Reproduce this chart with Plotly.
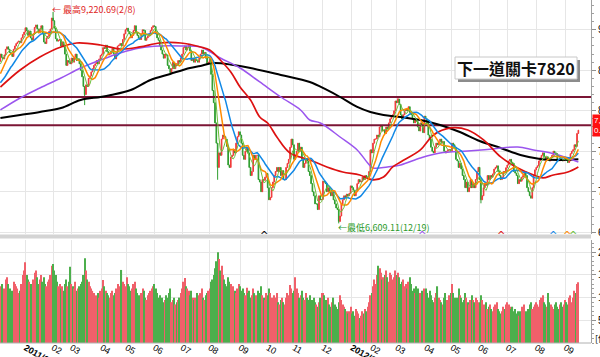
import pandas as pd
import plotly.graph_objects as go
from plotly.subplots import make_subplots

# ---------------- data ----------------
month_names = ["2010/12", "2011/01", "2011/02", "2011/03", "2011/04", "2011/05", "2011/06",
               "2011/07", "2011/08", "2011/09", "2011/10", "2011/11", "2011/12",
               "2012/01", "2012/02", "2012/03", "2012/04", "2012/05", "2012/06",
               "2012/07", "2012/08", "2012/09"]
month_tick_text = ["", "<b>2011/01</b>", "02", "03", "04", "05", "06", "07", "08", "09", "10",
                   "11", "12", "<b>2012/01</b>", "02", "03", "04", "05", "06", "07", "08", "09"]

# closes of the 20 sessions before the visible window (feed the short moving averages)
close_pre = [8400, 8330, 8250, 8200, 8250, 8180, 8150, 8230, 8250, 8300, 8210, 8280, 8330,
             8340, 8370, 8372, 8435, 8540, 8600, 8610]

close_2010_12 = [8700, 8660, 8640, 8690, 8760, 8790, 8760, 8720, 8700, 8670, 8760, 8800, 8830,
                 8850, 8860, 8840, 8900, 8940, 8972]
close_2011_01 = [9025, 8990, 8930, 8985, 8900, 8870, 8950, 9030, 9060, 9010, 8960, 9010, 9050,
                 8960, 8850, 8830, 8900, 8920, 8980, 9010, 9145]
close_2011_02 = [9112, 9020, 8890, 8860, 8870, 8880, 8800, 8850, 8790, 8700, 8560, 8620, 8600, 8580]
close_2011_03 = [8650, 8600, 8660, 8700, 8620, 8640, 8580, 8500, 8420, 8300, 8200, 8320, 8300,
                 8400, 8430, 8480, 8520, 8560, 8580, 8620, 8580, 8640, 8683]
close_2011_04 = [8700, 8780, 8770, 8810, 8730, 8690, 8700, 8730, 8770, 8700, 8640, 8720, 8800,
                 8810, 8830, 8800, 8880, 8950, 9000]
close_2011_05 = [9020, 8980, 8950, 8900, 8930, 8990, 9050, 8960, 8930, 8900, 8880, 8950, 9000,
                 8990, 8870, 8900, 8920, 8950, 8990, 9030, 9050]
close_2011_06 = [9040, 8950, 8900, 8870, 8800, 8750, 8700, 8650, 8700, 8690, 8560, 8520, 8470,
                 8520, 8600, 8520, 8580, 8560, 8620, 8600, 8652]
close_2011_07 = [8700, 8780, 8800, 8750, 8780, 8820, 8740, 8620, 8650, 8600, 8640, 8620, 8600,
                 8650, 8700, 8750, 8700, 8720, 8650, 8580, 8600]
close_2011_08 = [8640, 8450, 8250, 8100, 7850, 7600, 7300, 7480, 7450, 7650, 7700, 7680, 7650,
                 7560, 7330, 7300, 7430, 7450, 7520, 7480, 7600, 7680, 7740]
close_2011_09 = [7700, 7600, 7450, 7400, 7500, 7550, 7480, 7300, 7200, 7250, 7450, 7400, 7450,
                 7450, 7150, 7120, 7000, 7150, 7140, 7180, 7225]
close_2011_10 = [7050, 6900, 6930, 7050, 7120, 7200, 7250, 7300, 7250, 7300, 7200, 7260, 7150,
                 7150, 7300, 7350, 7400, 7550, 7650, 7580]
close_2011_11 = [7400, 7450, 7500, 7600, 7500, 7550, 7400, 7300, 7350, 7400, 7380, 7250, 7200,
                 7100, 7000, 6950, 6850, 6850, 6780, 6950, 6900, 6904]
close_2011_12 = [7130, 7120, 7100, 7000, 7050, 7000, 6950, 7000, 6900, 6850, 6800, 6780, 6633,
                 6700, 6850, 6900, 6950, 6930, 6970, 6950, 6980, 7072]
close_2012_01 = [7050, 7020, 6950, 7000, 7100, 7150, 7120, 7130, 7180, 7150, 7200, 7180, 7180,
                 7250, 7517]
close_2012_02 = [7480, 7600, 7650, 7650, 7700, 7680, 7800, 7820, 7750, 7760, 7720, 7800, 7780,
                 7850, 7900, 7930, 7950, 8000, 8121]
close_2012_03 = [8100, 8144, 8080, 7950, 7900, 7950, 8000, 8020, 8000, 8050, 7980, 7950, 7900,
                 7850, 7900, 7870, 7800, 7750, 7850, 7820, 7730, 7933]
close_2012_04 = [7900, 7850, 7700, 7650, 7550, 7500, 7480, 7550, 7600, 7580, 7620, 7650, 7600,
                 7620, 7500, 7480, 7500, 7520, 7520, 7501]
close_2012_05 = [7600, 7580, 7550, 7400, 7380, 7300, 7350, 7280, 7200, 7150, 7050, 7120, 7000,
                 7050, 7150, 7050, 7100, 7050, 7150, 7250, 7301]
close_2012_06 = [7150, 6900, 6950, 7050, 7100, 7080, 7200, 7150, 7200, 7180, 7220, 7280, 7300,
                 7320, 7250, 7200, 7150, 7180, 7250, 7230, 7296]
close_2012_07 = [7330, 7380, 7400, 7360, 7350, 7250, 7230, 7200, 7100, 7150, 7130, 7180, 7200,
                 7250, 7200, 7050, 7000, 6950, 6920, 7050, 7200, 7270]
close_2012_08 = [7300, 7320, 7380, 7420, 7450, 7480, 7430, 7400, 7430, 7400, 7380, 7420, 7450,
                 7500, 7480, 7470, 7400, 7380, 7420, 7400, 7380, 7400]
close_2012_09 = [7420, 7390, 7360, 7380, 7470, 7500, 7520, 7580, 7560, 7720, 7760]

# daily turnover (NT$ 100 million)
vol_2010_12 = [1250, 1300, 1150, 1200, 1400, 1450, 1300, 1200, 1100, 1150, 1350, 1300, 1250, 1200,
               1100, 1150, 1300, 1500, 1600]
vol_2011_01 = [1780, 1500, 1400, 1350, 1300, 1250, 1400, 1550, 1600, 1450, 1300, 1400, 1500, 1350,
               1450, 1300, 1250, 1350, 1400, 1500, 1700]
vol_2011_02 = [1740, 1600, 1500, 1350, 1250, 1300, 1200, 1250, 1150, 1300, 1400, 1250, 1350, 1680]
vol_2011_03 = [1300, 1250, 1200, 1350, 1150, 1200, 1250, 1300, 1350, 1500, 1870, 1600, 1400, 1350,
               1250, 1200, 1150, 1100, 1000, 1050, 1100, 1000, 1150]
vol_2011_04 = [1200, 1390, 1250, 1150, 1100, 1050, 1000, 1100, 1150, 1050, 1100, 1200, 1300, 1250,
               1200, 1610, 1350, 1300, 1250]
vol_2011_05 = [1450, 1300, 1250, 1150, 1200, 1300, 1350, 1200, 1100, 1050, 1000, 1100, 1200, 1150,
               1000, 950, 1050, 1100, 1150, 1200, 1250]
vol_2011_06 = [1300, 1200, 1100, 1000, 1050, 950, 1000, 900, 950, 1050, 1000, 1100, 1200, 900, 950,
               1000, 850, 900, 950, 1000, 1100]
vol_2011_07 = [1200, 1350, 1430, 1250, 1200, 1150, 1050, 1150, 1000, 950, 1000, 1100, 950, 1050,
               1100, 1200, 1000, 950, 1050, 1100, 1150]
vol_2011_08 = [1200, 1350, 1400, 1500, 1650, 1800, 2000, 1850, 1600, 1700, 1500, 1400, 1300, 1250,
               1450, 1350, 1300, 1200, 1250, 1150, 1100, 1200, 1300]
vol_2011_09 = [1250, 1150, 1200, 1100, 1050, 1220, 1100, 1150, 1000, 1050, 1200, 1100, 1050, 1000,
               1150, 1100, 1250, 1050, 1000, 950, 1100]
vol_2011_10 = [1050, 1200, 1100, 1000, 950, 1050, 1000, 1100, 900, 850, 950, 1000, 900, 850, 1000,
               1100, 1050, 1280, 1200, 1100]
vol_2011_11 = [1150, 1450, 1200, 1100, 1000, 1050, 1150, 1000, 950, 1100, 1000, 950, 1050, 900, 950,
               1000, 900, 850, 800, 900, 1000, 1100]
vol_2011_12 = [1100, 1050, 950, 900, 1000, 850, 800, 900, 1000, 850, 800, 750, 900, 1050, 950, 850,
               800, 750, 700, 650, 700, 800]
vol_2012_01 = [650, 700, 600, 750, 700, 650, 550, 600, 700, 650, 750, 700, 800, 900, 1050]
vol_2012_02 = [1100, 1250, 1400, 1300, 1500, 1700, 1650, 1550, 1400, 1450, 1500, 1600, 1450, 1350,
               1550, 1500, 1400, 1450, 1600]
vol_2012_03 = [1500, 1550, 1450, 1300, 1350, 1400, 1250, 1300, 1200, 1350, 1450, 1300, 1150, 1200,
               1100, 1250, 1200, 1050, 1100, 1150, 1050, 1200]
vol_2012_04 = [1200, 1100, 1000, 1150, 1050, 950, 900, 1000, 1100, 1250, 1000, 950, 900, 850, 1000,
               1100, 950, 900, 1050, 1100]
vol_2012_05 = [1300, 1100, 1000, 950, 1000, 1200, 1050, 1000, 900, 950, 1100, 1000, 900, 850, 950,
               1050, 950, 900, 1000, 950, 900]
vol_2012_06 = [900, 1050, 950, 850, 800, 900, 750, 800, 850, 750, 700, 800, 850, 900, 750, 700, 650,
               700, 800, 750, 850]
vol_2012_07 = [900, 850, 800, 750, 800, 700, 750, 650, 700, 600, 700, 800, 750, 850, 700, 650, 750,
               850, 900, 750, 800, 850]
vol_2012_08 = [900, 850, 800, 950, 1000, 1050, 900, 850, 800, 1100, 900, 850, 800, 750, 850, 900, 800,
               750, 850, 900, 800, 850]
vol_2012_09 = [950, 900, 850, 1000, 1050, 900, 1000, 1150, 1100, 1300, 1340]

# intraday extremes (month, session within month, value)
intraday_highs = [("2011/02", 0, 9220.69), ("2012/03", 1, 8170.72)]
intraday_lows = [("2011/03", 10, 8070), ("2011/08", 6, 7148), ("2011/12", 12, 6609.11),
                 ("2012/06", 1, 6857)]

# long moving averages (session index, value)
ma60_day = [0, 15, 30, 46, 58, 76, 91, 106, 121, 137, 152, 159, 167, 175, 182, 190, 197, 203, 210,
            220, 235, 248, 260, 273, 283, 291, 298, 304, 319, 329, 342, 355, 367, 380, 393, 405,
            412, 420, 431, 439]
ma60_val = [8293, 8504, 8664, 8788, 8837, 8812, 8763, 8788, 8837, 8837, 8788, 8751, 8627, 8479,
            8294, 8133, 7923, 7849, 7676, 7479, 7393, 7306, 7244, 7207, 7146, 7183, 7306, 7368,
            7516, 7701, 7788, 7763, 7640, 7430, 7294, 7207, 7170, 7207, 7244, 7306]
ma120_day = [0, 15, 30, 46, 61, 76, 91, 106, 121, 137, 152, 167, 182, 197, 213, 228, 235, 243, 258,
             271, 279, 283, 294, 304, 319, 334, 355, 374, 393, 405, 418, 431, 439]
ma120_val = [8010, 8158, 8281, 8405, 8528, 8627, 8714, 8775, 8800, 8800, 8788, 8652, 8528, 8356,
             8170, 8010, 7886, 7849, 7676, 7516, 7355, 7294, 7306, 7331, 7417, 7479, 7504, 7528,
             7553, 7516, 7479, 7417, 7368]
ma240_day = [0, 15, 30, 46, 61, 76, 84, 99, 114, 129, 144, 152, 162, 177, 190, 213, 235, 248, 258,
             271, 281, 291, 304, 319, 334, 349, 364, 380, 395, 410, 425, 439]
ma240_val = [7911, 7948, 7985, 8034, 8133, 8170, 8195, 8257, 8380, 8455, 8528, 8553, 8590, 8565,
             8528, 8442, 8355, 8257, 8170, 8047, 7985, 7948, 7923, 7886, 7825, 7738, 7627, 7541,
             7454, 7405, 7393, 7400]

resistance_levels = [8170, 7820]
target_level = 7820
ma_periods = [240, 120, 60, 20, 10, 5]
vol_ticks = [500, 1000, 1500, 2000]

# ---------------- assemble ----------------
close_months = [close_2010_12, close_2011_01, close_2011_02, close_2011_03, close_2011_04,
                close_2011_05, close_2011_06, close_2011_07, close_2011_08, close_2011_09,
                close_2011_10, close_2011_11, close_2011_12, close_2012_01, close_2012_02,
                close_2012_03, close_2012_04, close_2012_05, close_2012_06, close_2012_07,
                close_2012_08, close_2012_09]
vol_months = [vol_2010_12, vol_2011_01, vol_2011_02, vol_2011_03, vol_2011_04, vol_2011_05,
              vol_2011_06, vol_2011_07, vol_2011_08, vol_2011_09, vol_2011_10, vol_2011_11,
              vol_2011_12, vol_2012_01, vol_2012_02, vol_2012_03, vol_2012_04, vol_2012_05,
              vol_2012_06, vol_2012_07, vol_2012_08, vol_2012_09]
for cm, vm, nm in zip(close_months, vol_months, month_names):
    if len(cm) != len(vm):
        raise ValueError(f"length mismatch in {nm}: {len(cm)} vs {len(vm)}")

closes = [c for m in close_months for c in m]
volumes = [v for m in vol_months for v in m]
n = len(closes)
day = list(range(n))
month_start = []
pos = 0
for m in close_months:
    month_start.append(pos)
    pos += len(m)

opens = [close_pre[-1]] + closes[:-1]
highs = [max(o, c) for o, c in zip(opens, closes)]
lows = [min(o, c) for o, c in zip(opens, closes)]
for mon, d, v in intraday_highs:
    highs[month_start[month_names.index(mon)] + d] = v
for mon, d, v in intraday_lows:
    lows[month_start[month_names.index(mon)] + d] = v

full = pd.Series(close_pre + closes, dtype=float)
k = len(close_pre)
ma5 = full.rolling(5).mean().iloc[k:].tolist()
ma10 = full.rolling(10).mean().iloc[k:].tolist()
ma20 = full.rolling(20).mean().iloc[k:].tolist()

UP, DOWN = "#f03a3a", "#2f9e2f"
VUP, VDOWN = "#f0606a", "#4caf4c"
vol_colors = [VUP if c >= o else VDOWN for o, c in zip(opens, closes)]

# ---------------- figure ----------------
W, H = 600, 357
ML, MR, MT, MB = 0, 9, 0, 14
PW, PH = W - ML - MR, H - MT - MB


def px_x(v):
    return v / PW


def px_y(v):
    return 1 - v / PH


fig = make_subplots(rows=2, cols=1, shared_xaxes=True)

fig.add_trace(go.Candlestick(
    x=day, open=opens, high=highs, low=lows, close=closes,
    increasing=dict(line=dict(color=UP, width=1), fillcolor=UP),
    decreasing=dict(line=dict(color=DOWN, width=1), fillcolor=DOWN),
    whiskerwidth=0, hoverinfo="skip", showlegend=False), row=1, col=1)

for lvl in resistance_levels:
    fig.add_trace(go.Scatter(x=[-1, n + 20], y=[lvl, lvl], mode="lines",
                             line=dict(color="#7b1535", width=2), hoverinfo="skip",
                             showlegend=False), row=1, col=1)

fig.add_trace(go.Scatter(x=ma240_day, y=ma240_val, mode="lines", line_shape="spline",
                         line=dict(color="#000000", width=2), showlegend=False), row=1, col=1)
fig.add_trace(go.Scatter(x=ma120_day, y=ma120_val, mode="lines", line_shape="spline",
                         line=dict(color="#9b55ee", width=1.5), showlegend=False), row=1, col=1)
fig.add_trace(go.Scatter(x=ma60_day, y=ma60_val, mode="lines", line_shape="spline",
                         line=dict(color="#dd1111", width=1.7), showlegend=False), row=1, col=1)
fig.add_trace(go.Scatter(x=day, y=ma20, mode="lines",
                         line=dict(color="#1188e6", width=1.5), showlegend=False), row=1, col=1)
fig.add_trace(go.Scatter(x=day, y=ma10, mode="lines",
                         line=dict(color="#ff8a00", width=1.5), showlegend=False), row=1, col=1)
fig.add_trace(go.Scatter(x=day, y=ma5, mode="lines",
                         line=dict(color="#6cbf3a", width=1), showlegend=False), row=1, col=1)

fig.add_trace(go.Bar(x=day, y=volumes, marker=dict(color=vol_colors, line=dict(width=0)),
                     hoverinfo="skip", showlegend=False), row=2, col=1)

grid = "#e6e6e6"
axis_font = dict(family="Liberation Sans, Arial, sans-serif", size=10, color="#000")
xtick_font = dict(family="Liberation Sans, Arial, sans-serif", size=9, color="#000")
tickvals = month_start[1:]
ticktext = month_tick_text[1:]
for r in (1, 2):
    fig.update_xaxes(row=r, col=1, range=[-0.3, 448.6], tickmode="array", tickvals=tickvals,
                     ticktext=ticktext, showgrid=True, gridcolor=grid, gridwidth=1,
                     zeroline=False, showline=False, ticks="", rangeslider_visible=False,
                     showticklabels=(r == 2), tickfont=xtick_font, automargin=False,
                     ticklabelstandoff=-3)

fig.update_yaxes(row=1, col=1, side="right", range=[6478, 9368], tickmode="linear", tick0=6500,
                 dtick=500, tickformat=",d", showgrid=True, gridcolor=grid, zeroline=False,
                 showline=True, linecolor="#a0a0a0", linewidth=1, ticks="outside", ticklen=4,
                 tickcolor="#909090", tickfont=axis_font, automargin=False,
                 minor=dict(tickmode="linear", tick0=6500, dtick=100, ticks="outside", ticklen=2,
                            tickcolor="#a0a0a0", showgrid=False))
fig.update_yaxes(row=2, col=1, side="right", range=[0, 2270], tickmode="array",
                 tickvals=vol_ticks, ticktext=[f"{v:,d}" for v in vol_ticks],
                 showgrid=True, gridcolor=grid, zeroline=False,
                 showline=True, linecolor="#a0a0a0", linewidth=1, ticks="outside", ticklen=4,
                 tickcolor="#909090", tickfont=axis_font, automargin=False,
                 minor=dict(tickmode="linear", tick0=0, dtick=100, ticks="outside", ticklen=2,
                            tickcolor="#a0a0a0", showgrid=False))

fig.update_layout(
    width=W, height=H, margin=dict(l=ML, r=MR, t=MT, b=MB, autoexpand=False),
    paper_bgcolor="white", plot_bgcolor="white", bargap=0.15, showlegend=False,
    hovermode=False,
    yaxis=dict(domain=[px_y(234), 1]),
    yaxis2=dict(domain=[0, px_y(240)]),
)

shapes = [
    # separator between panels
    dict(type="rect", xref="paper", yref="paper", x0=0, x1=1, y0=px_y(238.5), y1=px_y(234.5),
         fillcolor="#d4d4d4", line=dict(width=0), layer="above"),
    # bottom axis line
    dict(type="line", xref="paper", yref="paper", x0=0, x1=1, y0=0, y1=0,
         line=dict(color="#b0b0b0", width=1)),
    # callout box shadow + box
    dict(type="rect", xref="paper", yref="paper", x0=px_x(458), x1=px_x(580), y0=px_y(82),
         y1=px_y(60), fillcolor="#8c8c8c", line=dict(width=0), layer="above"),
    dict(type="rect", xref="paper", yref="paper", x0=px_x(455), x1=px_x(577), y0=px_y(79),
         y1=px_y(57), fillcolor="white", line=dict(color="#c8c8c8", width=1), layer="above"),
]
fig.update_layout(shapes=shapes)

cjk = "Noto Sans CJK TC, sans-serif"
annotations = [
    dict(text="<b>下一道關卡7820</b>", xref="paper", yref="paper", x=px_x(516), y=px_y(68),
         xanchor="center", yanchor="middle", showarrow=False,
         font=dict(family=cjk, size=16, color="#111")),
    dict(text="← 最高9,220.69(2/8)", xref="paper", yref="paper", x=px_x(50), y=px_y(9),
         xanchor="left", yanchor="middle", showarrow=False,
         font=dict(family=cjk, size=9, color="#e02424")),
    dict(text="←最低6,609.11(12/19)", xref="paper", yref="paper", x=px_x(336), y=px_y(227),
         xanchor="left", yanchor="middle", showarrow=False,
         font=dict(family=cjk, size=9, color="#2a9a2a")),
    dict(text=f"{target_level:,d}<br>0.00", xref="paper", yref="y", x=px_x(591.5),
         y=target_level, xanchor="left", yanchor="middle", align="left", showarrow=False,
         bgcolor="#ff1010", borderpad=1,
         font=dict(family="Liberation Sans, Arial", size=8, color="white")),
    dict(text="[億]", xref="paper", yref="paper", x=px_x(593), y=px_y(338), xanchor="left",
         yanchor="middle", showarrow=False, font=dict(family=cjk, size=9, color="#000")),
]
ma_colors = {240: "#000000", 120: "#9b55ee", 60: "#dd1111", 20: "#1188e6", 10: "#ff8a00",
             5: "#6cbf3a"}
for p in ma_periods:
    annotations.append(dict(text="^", xref="x", yref="paper", x=n - p, y=px_y(235),
                            xanchor="center", yanchor="middle", showarrow=False,
                            font=dict(family="DejaVu Sans", size=10, color=ma_colors[p])))
fig.update_layout(annotations=annotations)

fig.write_html("out.html", config={"displayModeBar": False},
               post_script="document.body.style.margin='0';")
